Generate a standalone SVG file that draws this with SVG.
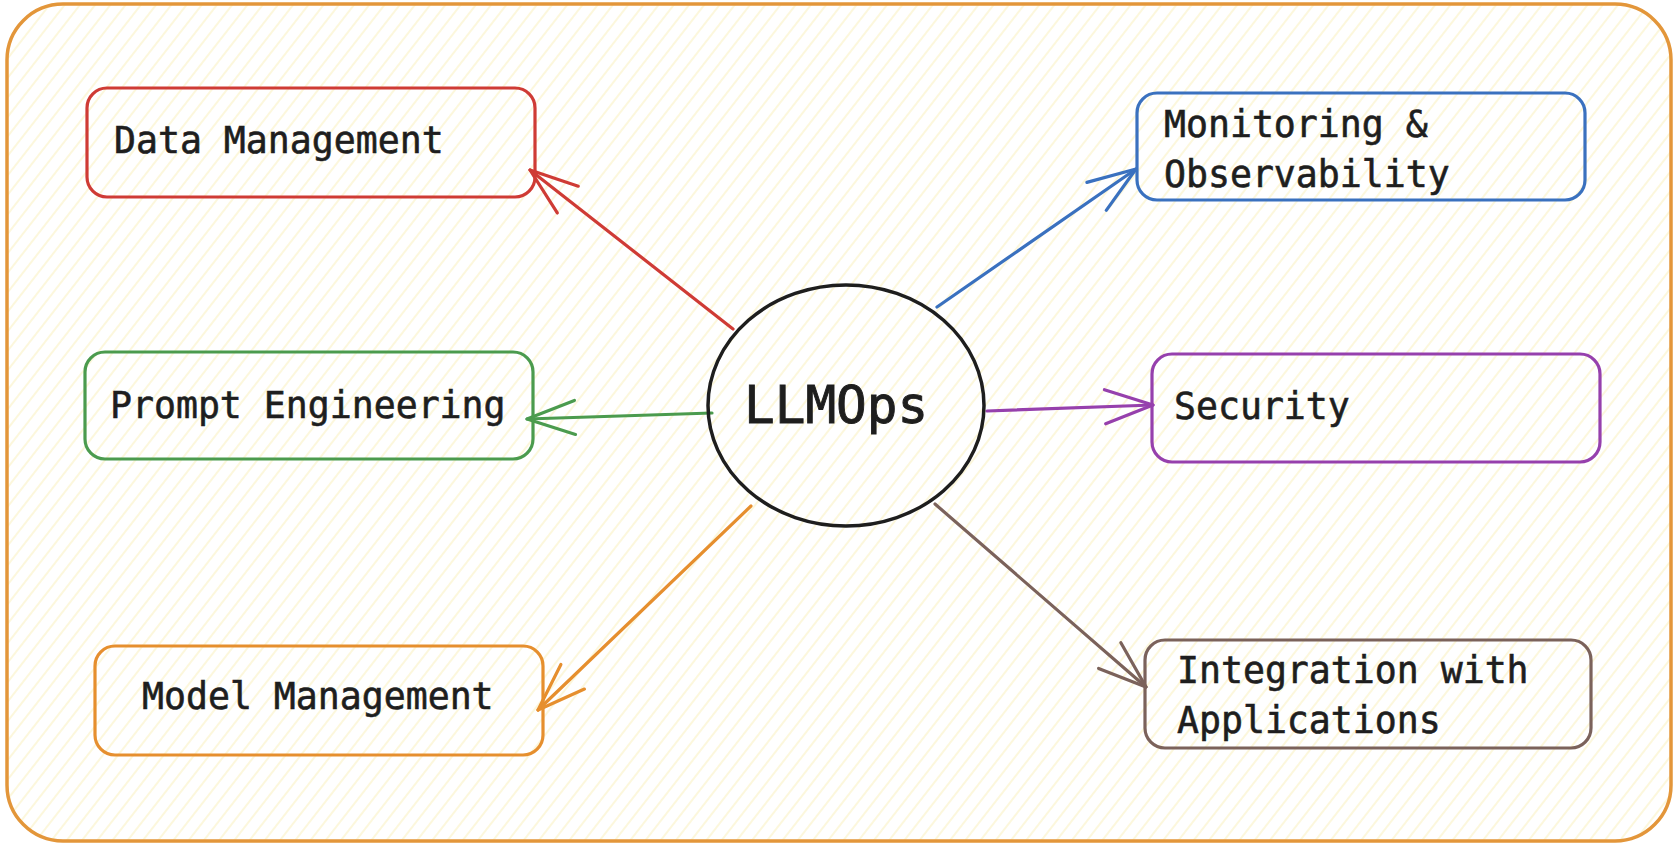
<svg xmlns="http://www.w3.org/2000/svg" width="1676" height="848" viewBox="0 0 1676 848">
  <defs>
    <pattern id="hatch" patternUnits="userSpaceOnUse" width="12" height="12" patternTransform="rotate(-52)">
      <line x1="0" y1="6" x2="12" y2="6" stroke="#fbf3c9" stroke-width="1.3"/>
    </pattern>
    <marker id="ah-red" markerUnits="userSpaceOnUse" orient="auto" overflow="visible" markerWidth="60" markerHeight="40" refX="0" refY="0"><path d="M-48,-17 L0,0 L-48,17" class="head" stroke="#cf3b35"/></marker>
    <marker id="ah-blue" markerUnits="userSpaceOnUse" orient="auto" overflow="visible" markerWidth="60" markerHeight="40" refX="0" refY="0"><path d="M-48,-17 L0,0 L-48,17" class="head" stroke="#3a71bf"/></marker>
    <marker id="ah-green" markerUnits="userSpaceOnUse" orient="auto" overflow="visible" markerWidth="60" markerHeight="40" refX="0" refY="0"><path d="M-48,-17 L0,0 L-48,17" class="head" stroke="#4b9b4e"/></marker>
    <marker id="ah-purple" markerUnits="userSpaceOnUse" orient="auto" overflow="visible" markerWidth="60" markerHeight="40" refX="0" refY="0"><path d="M-48,-17 L0,0 L-48,17" class="head" stroke="#9640ad"/></marker>
    <marker id="ah-orange" markerUnits="userSpaceOnUse" orient="auto" overflow="visible" markerWidth="60" markerHeight="40" refX="0" refY="0"><path d="M-48,-17 L0,0 L-48,17" class="head" stroke="#e68f2e"/></marker>
    <marker id="ah-brown" markerUnits="userSpaceOnUse" orient="auto" overflow="visible" markerWidth="60" markerHeight="40" refX="0" refY="0"><path d="M-48,-17 L0,0 L-48,17" class="head" stroke="#7b625b"/></marker>
  </defs>
  <style>
    .head { fill: none; stroke-width: 3.2; stroke-linecap: round; stroke-linejoin: round; }
    .box { fill: none; stroke-width: 3.2; }
    .lbl { font-family: "DejaVu Sans Mono", "Liberation Mono", monospace; font-size: 36.5px; fill: #1e1e1e; stroke: #1e1e1e; stroke-width: 0.6; }
    .conn { fill: none; stroke-width: 3.2; stroke-linecap: round; }
  </style>
  <rect x="0" y="0" width="1676" height="848" fill="#ffffff"/>
  <g id="frame">
    <rect x="7" y="4" width="1664" height="837" rx="56" ry="56" fill="#ffffff"/>
    <rect x="7" y="4" width="1664" height="837" rx="56" ry="56" fill="url(#hatch)" stroke="#e3963a" stroke-width="3.5"/>
  </g>
  <g id="connectors">
    <line class="conn" x1="733" y1="329" x2="530" y2="170" stroke="#cf3b35" marker-end="url(#ah-red)"/>
    <line class="conn" x1="937" y1="307" x2="1136" y2="169" stroke="#3a71bf" marker-end="url(#ah-blue)"/>
    <line class="conn" x1="712" y1="413" x2="527" y2="419" stroke="#4b9b4e" marker-end="url(#ah-green)"/>
    <line class="conn" x1="987" y1="411" x2="1153" y2="405" stroke="#9640ad" marker-end="url(#ah-purple)"/>
    <line class="conn" x1="751" y1="506" x2="538" y2="710" stroke="#e68f2e" marker-end="url(#ah-orange)"/>
    <line class="conn" x1="935" y1="504" x2="1146" y2="687" stroke="#7b625b" marker-end="url(#ah-brown)"/>
  </g>
  <g id="llmops">
    <ellipse cx="846" cy="405.5" rx="138" ry="120.5" fill="none" stroke="#1e1e1e" stroke-width="3.5"/>
    <text x="744" y="423" class="lbl" style="font-size:51px;stroke-width:0.9">LLMOps</text>
  </g>
  <g id="data-management">
    <rect class="box" x="87" y="88" width="448" height="109" rx="20" ry="20" stroke="#cf3b35"/>
    <text x="114" y="153" class="lbl">Data Management</text>
  </g>
  <g id="monitoring">
    <rect class="box" x="1137" y="93" width="448" height="107" rx="20" ry="20" stroke="#3a71bf"/>
    <text x="1164" y="137" class="lbl">Monitoring &amp;</text>
    <text x="1164" y="187" class="lbl">Observability</text>
  </g>
  <g id="prompt-engineering">
    <rect class="box" x="85" y="352" width="448" height="107" rx="20" ry="20" stroke="#4b9b4e"/>
    <text x="110" y="418" class="lbl">Prompt Engineering</text>
  </g>
  <g id="security">
    <rect class="box" x="1152" y="354" width="448" height="108" rx="20" ry="20" stroke="#9640ad"/>
    <text x="1174" y="419" class="lbl">Security</text>
  </g>
  <g id="model-management">
    <rect class="box" x="95" y="646" width="448" height="109" rx="20" ry="20" stroke="#e68f2e"/>
    <text x="142" y="709" class="lbl">Model Management</text>
  </g>
  <g id="integration">
    <rect class="box" x="1145" y="640" width="446" height="108" rx="20" ry="20" stroke="#7b625b"/>
    <text x="1177" y="683" class="lbl">Integration with</text>
    <text x="1177" y="733" class="lbl">Applications</text>
  </g>
</svg>
